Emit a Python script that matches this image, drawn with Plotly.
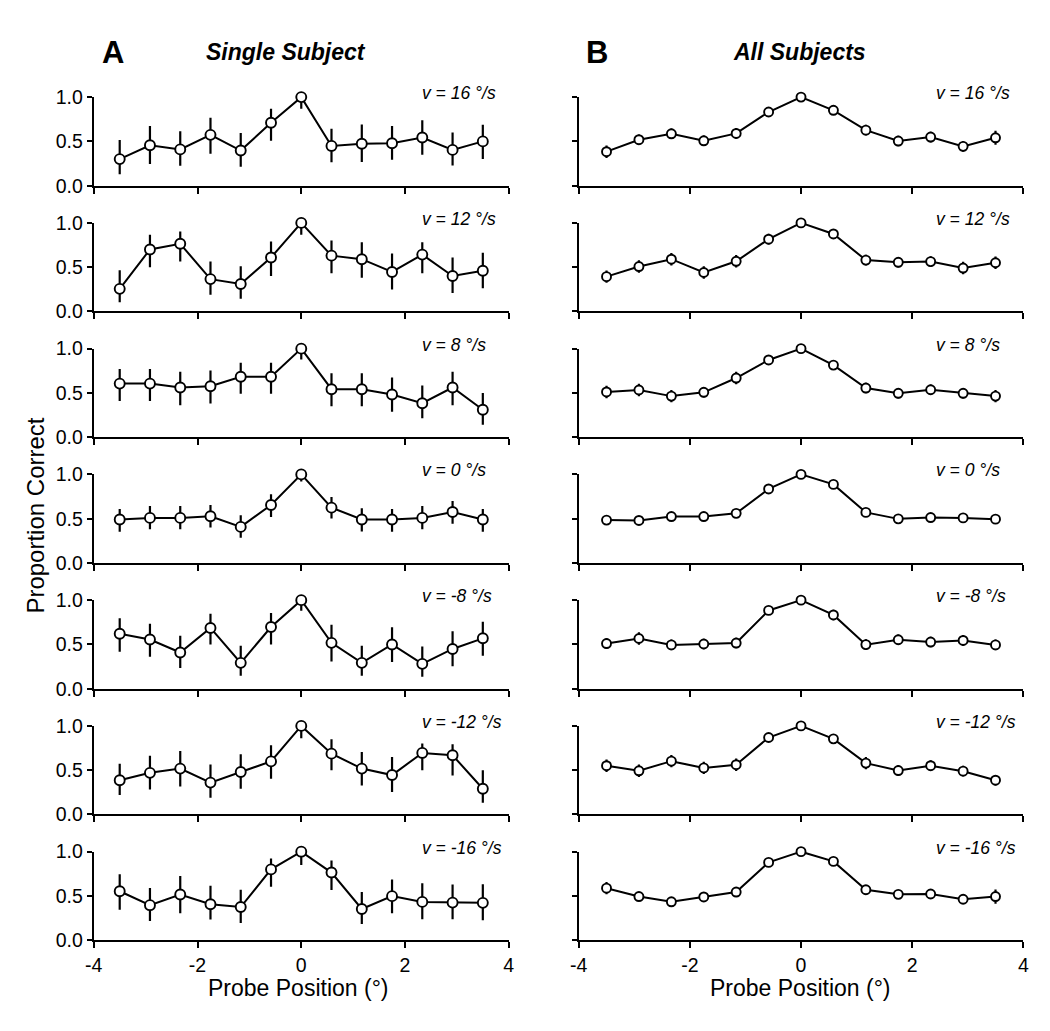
import plotly.graph_objects as go
from plotly.subplots import make_subplots

# probe positions (deg)
PROBE_POS = [-3.5, -2.917, -2.333, -1.75, -1.167, -0.583, 0.0, 0.583, 1.167, 1.75, 2.333, 2.917, 3.5]
SPEED_LABELS = ["v = 16 °/s", "v = 12 °/s", "v = 8 °/s", "v = 0 °/s",
                "v = -8 °/s", "v = -12 °/s", "v = -16 °/s"]
CHANCE = 0.5
X_TICKS = [-4, -2, 0, 2, 4]
Y_TICKS = [0.0, 0.5, 1.0]

# ── Single subject: proportion correct + CI bounds ──────────────────────
single_16 = [0.30, 0.456, 0.41, 0.574, 0.397, 0.71, 1.0, 0.449, 0.474, 0.48, 0.544, 0.404, 0.50]
single_16_hi = [0.515, 0.673, 0.614, 0.768, 0.596, 0.87, 1.0, 0.643, 0.691, 0.673, 0.739, 0.60, 0.688]
single_16_lo = [0.13, 0.246, 0.224, 0.36, 0.213, 0.507, 0.87, 0.265, 0.268, 0.294, 0.35, 0.228, 0.30]

single_12 = [0.255, 0.70, 0.764, 0.365, 0.31, 0.609, 1.0, 0.63, 0.59, 0.446, 0.642, 0.40, 0.46]
single_12_hi = [0.465, 0.867, 0.904, 0.565, 0.51, 0.79, 1.0, 0.80, 0.78, 0.653, 0.78, 0.61, 0.664]
single_12_lo = [0.103, 0.498, 0.565, 0.188, 0.144, 0.40, 0.867, 0.43, 0.38, 0.247, 0.43, 0.207, 0.262]

single_8 = [0.605, 0.605, 0.561, 0.576, 0.683, 0.683, 1.0, 0.542, 0.542, 0.483, 0.384, 0.561, 0.31]
single_8_hi = [0.771, 0.771, 0.738, 0.753, 0.841, 0.841, 1.0, 0.723, 0.723, 0.675, 0.583, 0.738, 0.50]
single_8_lo = [0.41, 0.41, 0.362, 0.38, 0.49, 0.49, 0.878, 0.35, 0.35, 0.288, 0.214, 0.362, 0.14]

single_0 = [0.491, 0.509, 0.509, 0.527, 0.407, 0.655, 1.0, 0.625, 0.491, 0.491, 0.509, 0.575, 0.491]
single_0_hi = [0.61, 0.644, 0.644, 0.655, 0.538, 0.775, 1.0, 0.745, 0.618, 0.61, 0.644, 0.70, 0.61]
single_0_lo = [0.353, 0.38, 0.38, 0.40, 0.284, 0.52, 0.92, 0.502, 0.356, 0.353, 0.38, 0.444, 0.353]

single_m8 = [0.62, 0.555, 0.409, 0.686, 0.292, 0.697, 1.0, 0.518, 0.292, 0.50, 0.281, 0.449, 0.569]
single_m8_hi = [0.796, 0.734, 0.599, 0.847, 0.485, 0.854, 1.0, 0.723, 0.485, 0.693, 0.478, 0.65, 0.755]
single_m8_lo = [0.416, 0.36, 0.234, 0.50, 0.146, 0.50, 0.88, 0.307, 0.146, 0.303, 0.135, 0.255, 0.372]

single_m12 = [0.386, 0.47, 0.518, 0.36, 0.48, 0.60, 1.0, 0.687, 0.518, 0.445, 0.695, 0.669, 0.29]
single_m12_hi = [0.574, 0.662, 0.717, 0.563, 0.68, 0.783, 1.0, 0.85, 0.706, 0.65, 0.80, 0.794, 0.50]
single_m12_lo = [0.22, 0.283, 0.316, 0.188, 0.29, 0.404, 0.86, 0.50, 0.327, 0.254, 0.50, 0.441, 0.132]

single_m16 = [0.553, 0.396, 0.516, 0.407, 0.375, 0.80, 1.0, 0.764, 0.353, 0.498, 0.433, 0.425, 0.422]
single_m16_hi = [0.745, 0.589, 0.724, 0.615, 0.571, 0.924, 1.0, 0.90, 0.545, 0.687, 0.644, 0.629, 0.633]
single_m16_lo = [0.345, 0.218, 0.305, 0.233, 0.196, 0.604, 0.85, 0.567, 0.182, 0.305, 0.236, 0.236, 0.225]

# ── All subjects: mean proportion correct + SEM ─────────────────────────
all_16 = [0.384, 0.519, 0.586, 0.507, 0.59, 0.832, 1.0, 0.851, 0.627, 0.504, 0.549, 0.444, 0.541]
all_16_sem = [0.07, 0.06, 0.06, 0.06, 0.06, 0.05, 0.0, 0.05, 0.06, 0.06, 0.06, 0.06, 0.08]

all_12 = [0.393, 0.507, 0.59, 0.44, 0.566, 0.816, 1.0, 0.875, 0.58, 0.555, 0.563, 0.49, 0.55]
all_12_sem = [0.07, 0.07, 0.07, 0.07, 0.07, 0.06, 0.0, 0.05, 0.06, 0.06, 0.06, 0.07, 0.07]

all_8 = [0.511, 0.533, 0.464, 0.507, 0.668, 0.872, 1.0, 0.814, 0.555, 0.496, 0.536, 0.496, 0.464]
all_8_sem = [0.07, 0.07, 0.07, 0.06, 0.07, 0.05, 0.0, 0.05, 0.06, 0.06, 0.06, 0.06, 0.07]

all_0 = [0.484, 0.48, 0.524, 0.524, 0.56, 0.836, 1.0, 0.887, 0.571, 0.498, 0.513, 0.509, 0.495]
all_0_sem = [0.045, 0.04, 0.04, 0.04, 0.04, 0.04, 0.0, 0.04, 0.04, 0.04, 0.04, 0.04, 0.045]

all_m8 = [0.51, 0.567, 0.495, 0.505, 0.516, 0.884, 1.0, 0.833, 0.498, 0.553, 0.527, 0.545, 0.495]
all_m8_sem = [0.06, 0.07, 0.06, 0.06, 0.06, 0.05, 0.0, 0.06, 0.06, 0.06, 0.06, 0.06, 0.06]

all_m12 = [0.551, 0.493, 0.602, 0.526, 0.562, 0.869, 1.0, 0.854, 0.58, 0.496, 0.551, 0.489, 0.387]
all_m12_sem = [0.07, 0.07, 0.07, 0.07, 0.07, 0.05, 0.0, 0.05, 0.07, 0.06, 0.06, 0.06, 0.06]

all_m16 = [0.588, 0.493, 0.434, 0.489, 0.544, 0.879, 1.0, 0.89, 0.57, 0.518, 0.522, 0.463, 0.493]
all_m16_sem = [0.07, 0.05, 0.05, 0.05, 0.05, 0.04, 0.0, 0.04, 0.05, 0.05, 0.05, 0.05, 0.08]

SINGLE = [
    (single_16, single_16_hi, single_16_lo),
    (single_12, single_12_hi, single_12_lo),
    (single_8, single_8_hi, single_8_lo),
    (single_0, single_0_hi, single_0_lo),
    (single_m8, single_m8_hi, single_m8_lo),
    (single_m12, single_m12_hi, single_m12_lo),
    (single_m16, single_m16_hi, single_m16_lo),
]
ALL = [
    (all_16, all_16_sem), (all_12, all_12_sem), (all_8, all_8_sem), (all_0, all_0_sem),
    (all_m8, all_m8_sem), (all_m12, all_m12_sem), (all_m16, all_m16_sem),
]

W, H = 1050, 1031
FONT = "Liberation Sans, Arial, Helvetica, sans-serif"

# pixel layout of the panels
COL_PX = [(86, 507), (578, 1029)]
ROW_TOP0, ROW_STEP, ROW_H = 88, 128.5, 90.5


def px_x(p):
    return p / W


def px_y(p):
    return 1 - p / H


fig = make_subplots(rows=7, cols=2)

for r in range(7):
    top = ROW_TOP0 + r * ROW_STEP
    for c in range(2):
        x0, x1 = COL_PX[c]
        if c == 0:
            mean, hi, lo = SINGLE[r]
            err = dict(type="data", symmetric=False,
                       array=[h - m for h, m in zip(hi, mean)],
                       arrayminus=[m - l for m, l in zip(mean, lo)],
                       color="black", thickness=2.2, width=0)
            msize = 10
        else:
            mean, sem = ALL[r]
            err = dict(type="data", array=sem, color="black", thickness=2.2, width=0)
            msize = 9

        fig.add_hline(y=CHANCE, row=r + 1, col=c + 1,
                      line=dict(color="black", width=1.6, dash="3px,2px"))

        fig.add_trace(
            go.Scatter(
                x=PROBE_POS, y=mean, mode="lines+markers",
                line=dict(color="black", width=2),
                marker=dict(size=msize, color="white", line=dict(color="black", width=1.9)),
                error_y=err, cliponaxis=False, showlegend=False,
            ),
            row=r + 1, col=c + 1,
        )

        fig.update_xaxes(
            domain=[px_x(x0), px_x(x1)], range=[-4, 4],
            tickvals=X_TICKS, ticktext=[str(t) for t in X_TICKS],
            showticklabels=(r == 6), showline=True, linecolor="black", linewidth=2,
            ticks="outside", ticklen=6, tickwidth=2, tickcolor="black",
            showgrid=False, zeroline=False,
            tickfont=dict(family=FONT, size=19.5, color="black"),
            row=r + 1, col=c + 1,
        )
        fig.update_yaxes(
            domain=[px_y(top + ROW_H), px_y(top)], range=[0, 1], tickvals=Y_TICKS,
            tickformat=".1f", showticklabels=(c == 0), showline=True,
            linecolor="black", linewidth=2, ticks="outside", ticklen=5, tickwidth=2,
            tickcolor="black", showgrid=False, zeroline=False,
            tickfont=dict(family=FONT, size=19.5, color="black"),
            row=r + 1, col=c + 1,
        )

        fig.add_annotation(
            text=f"<i>{SPEED_LABELS[r]}</i>", xref="paper", yref="paper",
            x=px_x(417 if c == 0 else 938), y=px_y(top - 4),
            xanchor="left", yanchor="middle", showarrow=False,
            font=dict(family=FONT, size=17.5, color="black"),
        )

# panel headers
for txt, xc, size in [("<b>A</b>", 106, 31), ("<b><i>Single Subject</i></b>", 281, 23),
                      ("<b>B</b>", 597, 31), ("<b><i>All Subjects</i></b>", 802, 23)]:
    fig.add_annotation(text=txt, xref="paper", yref="paper", x=px_x(xc), y=px_y(42),
                       xanchor="center", yanchor="middle", showarrow=False,
                       font=dict(family=FONT, size=size, color="black"))

# axis titles
for xc in (294, 803):
    fig.add_annotation(text="Probe Position (°)", xref="paper", yref="paper",
                       x=px_x(xc), y=px_y(998), xanchor="center", yanchor="middle",
                       showarrow=False, font=dict(family=FONT, size=23, color="black"))
fig.add_annotation(text="Proportion Correct", xref="paper", yref="paper",
                   x=px_x(27), y=px_y(516), textangle=-90, xanchor="center",
                   yanchor="middle", showarrow=False,
                   font=dict(family=FONT, size=24, color="black"))

fig.update_layout(
    width=W, height=H,
    margin=dict(l=0, r=0, t=0, b=0),
    plot_bgcolor="white", paper_bgcolor="white",
    font=dict(family=FONT, color="black"),
    showlegend=False,
)

# keep the figure flush with the page corner (no default body margin)
fig.write_html("out.html", config={"displayModeBar": False},
               post_script="document.body.style.margin = '0';")
